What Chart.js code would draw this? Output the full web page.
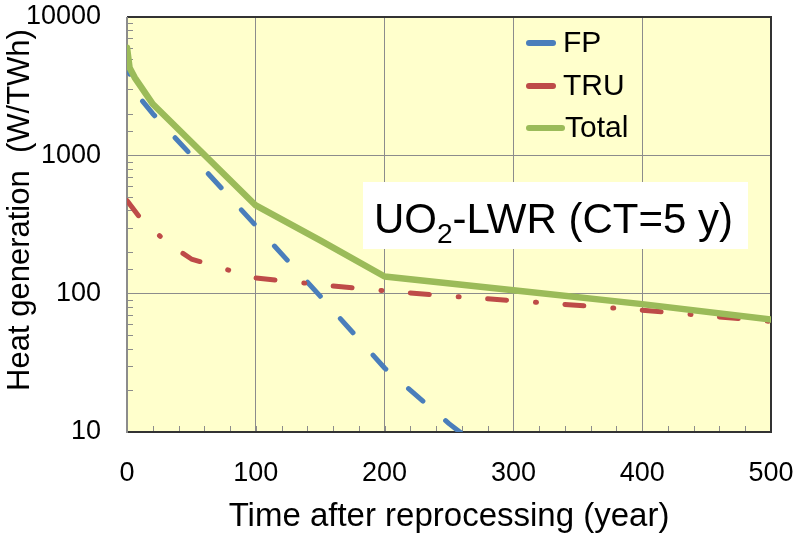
<!DOCTYPE html>
<html>
<head>
<meta charset="utf-8">
<title>Heat generation after reprocessing</title>
<script src="https://cdn.jsdelivr.net/npm/chart.js@4.4.1/dist/chart.umd.min.js"></script>
<style>
  html, body { margin: 0; padding: 0; background: #fff; }
  #wrap { width: 795px; height: 537px; }
</style>
</head>
<body>
<div id="wrap"><canvas id="heatchart"></canvas></div>
<script>
// values (year, W/TWh)
var fpYears = [0, 10, 20, 50, 100, 150, 200, 250, 300];
var fpHeat = [4300, 2600, 2000, 1000, 310, 96, 29, 11.5, 5];

var truYears = [0, 10, 20, 30, 40, 50, 60, 80, 100, 150, 200, 250, 300, 400, 500];
var truHeat = [471, 355, 290, 240, 205, 178, 167, 147, 130, 116, 105, 96, 89, 76, 63];

var totalYears = [0, 2, 6, 20, 100, 150, 200, 300, 400, 500];
var totalHeat = [6000, 4300, 3650, 2350, 434, 243, 133, 106, 84, 65];

var seriesNames = ['FP', 'TRU', 'Total'];
var seriesColors = ['#4A7EBB', '#BE4B48', '#9BBB59'];

var xTickLabels = [0, 100, 200, 300, 400, 500];
var yTickLabels = [10, 100, 1000, 10000];

var yTitle = 'Heat generation  (W/TWh)';
var xTitle = 'Time after reprocessing (year)';

var FONT = "'Liberation Sans', Arial, sans-serif";

function toPoints(xs, ys) {
    return xs.map(function (x, i) { return { x: x, y: ys[i] }; });
}

function isDecade(v) {
    return yTickLabels.indexOf(v) >= 0;
}

// keep the plot box where the original has it, labels may overhang
function fixBox(s, size) {
    if (s.isHorizontal()) s.height = size; else s.width = size;
    s.paddingTop = 0;
    s.paddingBottom = 0;
    s.paddingLeft = 0;
    s.paddingRight = 0;
}

// yellow plot background, minor tick marks and the frame
var framePlugin = {
    id: 'frame',
    beforeDraw: function (chart) {
        var a = chart.chartArea, ctx = chart.ctx;
        ctx.save();
        ctx.fillStyle = '#FFFFCC';
        ctx.fillRect(a.left, a.top, a.right - a.left, a.bottom - a.top);
        ctx.restore();
    },
    beforeDatasetsDraw: function (chart) {
        var a = chart.chartArea, ctx = chart.ctx;
        var xs = chart.scales.x, ys = chart.scales.y;
        ctx.save();
        ctx.strokeStyle = '#8c8c8c';
        ctx.lineWidth = 1;
        ctx.beginPath();
        ys.ticks.forEach(function (t) {
            if (isDecade(t.value)) return;
            var py = Math.round(ys.getPixelForValue(t.value)) + 0.5;
            ctx.moveTo(a.left, py);
            ctx.lineTo(a.left + 6, py);
        });
        xs.ticks.forEach(function (t) {
            var px = Math.round(xs.getPixelForValue(t.value)) + 0.5;
            ctx.moveTo(px, a.bottom);
            ctx.lineTo(px, a.bottom - 6);
        });
        ctx.stroke();

        ctx.lineWidth = 2;
        ctx.strokeStyle = '#333333';
        ctx.beginPath();
        ctx.moveTo(a.left, a.top);
        ctx.lineTo(a.right, a.top);
        ctx.lineTo(a.right, a.bottom);
        ctx.lineTo(a.left, a.bottom);
        ctx.stroke();
        ctx.strokeStyle = '#8c8c8c';
        ctx.beginPath();
        ctx.moveTo(a.left, a.top);
        ctx.lineTo(a.left, a.bottom + 1);
        ctx.stroke();
        ctx.restore();
    }
};

// legend inside the plot, the white label box and the y title
var labelPlugin = {
    id: 'labels',
    afterDraw: function (chart) {
        var ctx = chart.ctx;
        ctx.save();

        var rows = [43, 86, 128];
        var lineEnd = [553, 553, 562];
        var textX = [563, 563, 565];
        ctx.lineCap = 'round';
        ctx.lineWidth = 6;
        ctx.font = '30px ' + FONT;
        ctx.textBaseline = 'middle';
        ctx.fillStyle = '#000';
        for (var i = 0; i < seriesNames.length; i++) {
            ctx.strokeStyle = seriesColors[i];
            ctx.beginPath();
            ctx.moveTo(529, rows[i]);
            ctx.lineTo(lineEnd[i], rows[i]);
            ctx.stroke();
            ctx.fillText(seriesNames[i], textX[i], rows[i] + 1);
        }

        ctx.fillStyle = '#ffffff';
        ctx.fillRect(363, 182, 385, 67);

        ctx.fillStyle = '#000';
        ctx.textBaseline = 'alphabetic';
        var x = 374, base = 233;
        ctx.font = '42px ' + FONT;
        ctx.fillText('UO', x, base);
        x += ctx.measureText('UO').width;
        ctx.font = '28px ' + FONT;
        ctx.fillText('2', x, base + 10);
        x += ctx.measureText('2').width;
        ctx.font = '42px ' + FONT;
        ctx.fillText('-LWR (CT=5 y)', x, base);

        // rotated axis title
        ctx.translate(20, 210);
        ctx.rotate(-Math.PI / 2);
        ctx.textAlign = 'center';
        ctx.textBaseline = 'middle';
        ctx.font = '31px ' + FONT;
        ctx.fillText(yTitle, 0, 0);
        ctx.restore();
    }
};

new Chart(document.getElementById('heatchart'), {
    type: 'line',
    data: {
        datasets: [
            {
                label: seriesNames[0],
                data: toPoints(fpYears, fpHeat),
                borderColor: seriesColors[0],
                borderWidth: 5,
                borderDash: [19, 30],
                borderDashOffset: 12,
                borderCapStyle: 'round',
                order: 2
            },
            {
                label: seriesNames[1],
                data: toPoints(truYears, truHeat),
                borderColor: seriesColors[1],
                borderWidth: 5,
                borderDash: [19, 29, 1, 28.5],
                borderCapStyle: 'round',
                order: 1
            },
            {
                label: seriesNames[2],
                data: toPoints(totalYears, totalHeat),
                borderColor: seriesColors[2],
                borderWidth: 6.5,
                borderCapStyle: 'round',
                order: 0
            }
        ]
    },
    options: {
        responsive: true,
        maintainAspectRatio: false,
        animation: false,
        layout: { padding: { top: 17, right: 24, bottom: 0, left: 0 } },
        elements: {
            point: { radius: 0 },
            line: { tension: 0, borderJoinStyle: 'round', fill: false }
        },
        plugins: {
            legend: { display: false },
            tooltip: { enabled: false }
        },
        scales: {
            x: {
                type: 'linear',
                min: 0,
                max: 500,
                afterFit: function (s) { fixBox(s, 105); },
                border: { display: false },
                grid: {
                    drawTicks: false,
                    lineWidth: 1,
                    color: function (c) {
                        return c.tick && xTickLabels.indexOf(c.tick.value) >= 0 ? '#8c8c8c' : 'rgba(0,0,0,0)';
                    }
                },
                ticks: {
                    stepSize: 20,
                    autoSkip: false,
                    maxRotation: 0,
                    padding: 25,
                    color: '#000',
                    font: { family: FONT, size: 27 },
                    callback: function (v) { return xTickLabels.indexOf(v) >= 0 ? String(v) : ''; }
                },
                title: {
                    display: true,
                    text: xTitle,
                    color: '#000',
                    font: { family: FONT, size: 33 },
                    padding: { top: 0, bottom: 0 }
                }
            },
            y: {
                type: 'logarithmic',
                min: 10,
                max: 10000,
                afterFit: function (s) { fixBox(s, 127); },
                border: { display: false },
                grid: {
                    drawTicks: false,
                    lineWidth: 1,
                    color: function (c) {
                        return c.tick && isDecade(c.tick.value) ? '#8c8c8c' : 'rgba(0,0,0,0)';
                    }
                },
                ticks: {
                    autoSkip: false,
                    padding: 26,
                    color: '#000',
                    font: { family: FONT, size: 27 },
                    callback: function (v) { return isDecade(v) ? String(v) : ''; }
                },
                title: { display: false }
            }
        }
    },
    plugins: [framePlugin, labelPlugin]
});
</script>
</body>
</html>
